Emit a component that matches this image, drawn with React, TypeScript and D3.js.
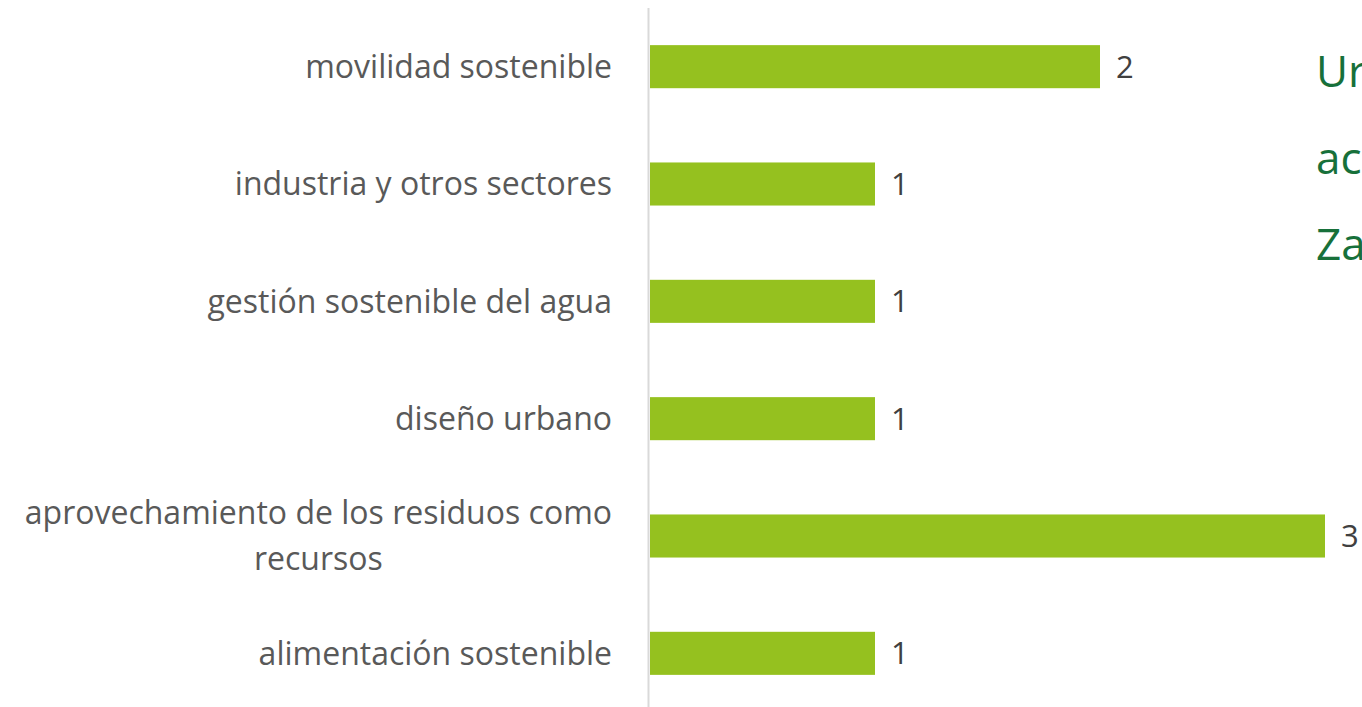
import React, { useEffect, useRef } from "react";
import * as d3 from "d3";

const categories = [
  "movilidad sostenible",
  "industria y otros sectores",
  "gestión sostenible del agua",
  "diseño urbano",
  "aprovechamiento de los residuos como|recursos",
  "alimentación sostenible",
];
const values = [2, 1, 1, 1, 3, 1];
const sideText = ["Ur", "ac", "Za"];

const WIDTH = 1362;
const HEIGHT = 707;
const FONT = "'Open Sans', Lato, sans-serif";

export default function App() {
  const ref = useRef<SVGSVGElement>(null);

  useEffect(() => {
    const svg = d3.select(ref.current);
    svg.selectAll("*").remove();

    const x = d3.scaleLinear().domain([0, 3]).range([650, 1325]);
    const y = d3
      .scaleBand<string>()
      .domain(categories)
      .range([8, 712])
      .paddingInner(0.633)
      .paddingOuter(0.3165);

    // axis line
    svg
      .append("line")
      .attr("x1", 648.5)
      .attr("x2", 648.5)
      .attr("y1", 8)
      .attr("y2", HEIGHT)
      .attr("stroke", "#d9d9d9")
      .attr("stroke-width", 2);

    // bars
    svg
      .selectAll("rect.bar")
      .data(categories)
      .enter()
      .append("rect")
      .attr("class", "bar")
      .attr("x", x(0))
      .attr("y", (d) => y(d)!)
      .attr("width", (d, i) => x(values[i]) - x(0))
      .attr("height", y.bandwidth())
      .attr("fill", "#95c11f");

    // value labels
    svg
      .selectAll("text.val")
      .data(categories)
      .enter()
      .append("text")
      .attr("class", "val")
      .attr("x", (d, i) => x(values[i]) + 16)
      .attr("y", (d) => y(d)! + y.bandwidth() / 2)
      .attr("dy", "0.36em")
      .attr("font-family", FONT)
      .attr("font-size", 31)
      .attr("fill", "#404040")
      .text((d, i) => values[i]);

    // category labels: lines centred on each other, block right aligned
    const labelRight = 612;
    const lineGap = 46;
    categories.forEach((c) => {
      const lines = c.split("|");
      const cy = y(c)! + y.bandwidth() / 2;
      const t = svg
        .append("text")
        .attr("font-family", FONT)
        .attr("font-size", 32)
        .attr("fill", "#595959")
        .attr("text-anchor", "middle");
      const spans = lines.map((ln, i) =>
        t
          .append("tspan")
          .attr("x", 0)
          .attr("y", cy + (i - (lines.length - 1) / 2) * lineGap)
          .attr("dy", "0.35em")
          .text(ln)
      );
      const w = d3.max(spans, (s) => (s.node() as SVGTSpanElement).getComputedTextLength()) || 0;
      spans.forEach((s) => s.attr("x", labelRight - w / 2));
    });

    // side text (cut off at right edge)
    svg
      .selectAll("text.side")
      .data(sideText)
      .enter()
      .append("text")
      .attr("class", "side")
      .attr("x", 1316)
      .attr("y", (d, i) => 87 + i * 86.5)
      .attr("font-family", FONT)
      .attr("font-size", 44)
      .attr("fill", "#17703a")
      .text((d) => d);
  }, []);

  return (
    <svg
      ref={ref}
      width={WIDTH}
      height={HEIGHT}
      style={{ position: "fixed", left: 0, top: 0, background: "#fff" }}
    />
  );
}
